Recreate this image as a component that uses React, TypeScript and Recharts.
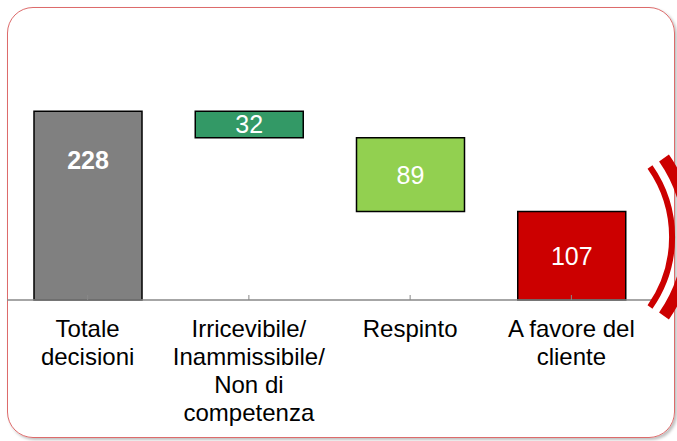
import React from "react";
import { BarChart, Bar, XAxis, YAxis, Cell, LabelList } from "recharts";

const tickLines: string[][] = [
  ["Totale", "decisioni"],
  ["Irricevibile/", "Inammissibile/", "Non di", "competenza"],
  ["Respinto"],
  ["A favore del", "cliente"],
];
const categories = ["Totale decisioni", "Irricevibile/Inammissibile/Non di competenza", "Respinto", "A favore del cliente"];
const values = [228, 32, 89, 107];
const colors = ["#808080", "#339966", "#92D050", "#CC0000"];

// waterfall bases: total bar starts at 0, each following bar hangs from the running remainder
const bases = values.map((v, i) => {
  if (i === 0) return 0;
  let rem = values[0];
  for (let j = 1; j <= i; j++) rem -= values[j];
  return rem;
});

const data = categories.map((name, i) => ({ name, base: bases[i], value: values[i], idx: i }));

const FONT = '"Liberation Sans", Arial, Helvetica, sans-serif';

const CustomTick = (props: any) => {
  const { x, y, index } = props;
  const lines = tickLines[index] || [];
  return (
    <g>
      <line x1={x} x2={x} y1={y} y2={y - 5} stroke="#888" strokeWidth={1} />
      <text x={x} y={y + 37} textAnchor="middle" fontFamily={FONT} fontSize={24} fill="#000">
        {lines.map((l, i) => (
          <tspan key={i} x={x} dy={i === 0 ? 0 : 28}>
            {l}
          </tspan>
        ))}
      </text>
    </g>
  );
};

const renderLabel = (props: any) => {
  const { x, y, width, height, value, index } = props;
  const cy = index === 0 ? y + height * 0.26 : y + height / 2;
  return (
    <text
      x={x + width / 2}
      y={cy}
      textAnchor="middle"
      dominantBaseline="central"
      fontFamily={FONT}
      fontSize={25}
      fontWeight={index === 0 ? "bold" : "normal"}
      fill="#fff"
    >
      {value}
    </text>
  );
};

export default function App() {
  return (
    <div style={{ position: "absolute", left: 0, top: 0, width: 677, height: 441, background: "#fff", overflow: "hidden" }}>
      <div
        style={{
          position: "absolute",
          left: 7,
          top: 7,
          width: 668,
          height: 431,
          border: "1.5px solid #dd6b6b",
          borderRadius: 26,
          boxShadow: "2px 2px 3px rgba(0,0,0,0.25)",
          boxSizing: "border-box",
        }}
      />
      <div style={{ position: "absolute", left: 0, top: 0 }}>
        <BarChart
          width={677}
          height={441}
          data={data}
          margin={{ top: 93, right: 25, left: 7, bottom: 0 }}
          barSize={108}
        >
          <YAxis hide domain={[0, 250]} />
          <XAxis
            dataKey="name"
            interval={0}
            height={141}
            tickSize={0}
            tickMargin={0}
            axisLine={{ stroke: "#888", strokeWidth: 1.5 }}
            tickLine={false}
            tick={<CustomTick />}
          />
          <Bar dataKey="base" stackId="w" fill="transparent" isAnimationActive={false} />
          <Bar dataKey="value" stackId="w" stroke="#000" strokeWidth={1.5} isAnimationActive={false}>
            {data.map((d, i) => (
              <Cell key={i} fill={colors[i]} />
            ))}
            <LabelList dataKey="value" content={renderLabel} />
          </Bar>
        </BarChart>
      </div>
      <svg width={677} height={441} style={{ position: "absolute", left: 0, top: 0, pointerEvents: "none" }}>
        <path d="M 650 167 A 122 122 0 0 1 650 307" fill="none" stroke="#CC0000" strokeWidth={6} />
        <path d="M 664 158 A 138 138 0 0 1 664 316" fill="none" stroke="#CC0000" strokeWidth={12} />
      </svg>
    </div>
  );
}
